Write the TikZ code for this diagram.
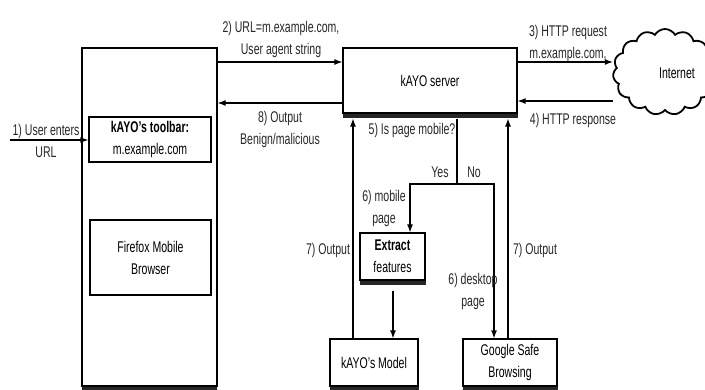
\documentclass[tikz,border=0pt]{standalone}
\usepackage{fontspec}
\setmainfont{Liberation Sans}[FakeStretch=0.68]
\usetikzlibrary{arrows.meta,shapes.symbols}
\begin{document}
\begin{tikzpicture}[x=1pt,y=-1pt,
  every node/.style={font=\fontsize{15.5}{22}\selectfont, inner sep=0pt},
  box/.style={draw, line width=1.2pt, rectangle, align=center},
  bar/.style={fill=black!85, draw=none, rectangle, minimum height=4.5pt, anchor=north},
  lbl/.style={align=center, text=black!85},
  arr/.style={line width=1.2pt, -{Latex[length=8pt,width=6pt]}},
  ln/.style={line width=1.2pt}]
\useasboundingbox (0,0) rectangle (705,389);
\clip (0,0) rectangle (705,389);
% boxes
\node[box, minimum width=135pt, minimum height=338pt] (browser) at (149.5,217) {};
\node[bar, minimum width=135pt, minimum height=3pt] (bbar) at (browser.south) {};
\node[box, minimum width=122pt, minimum height=45pt] (toolbar) at (150,139.5) {\textbf{kAYO's toolbar:}\\m.example.com};
\node[box, minimum width=121pt, minimum height=75pt] (firefox) at (150.5,257.5) {Firefox Mobile\\Browser};
\node[box, minimum width=174pt, minimum height=65pt] (server) at (430,80.5) {kAYO server};
\node[bar, minimum width=175pt] (sbar) at (server.south) {};
\node[box, minimum width=65pt, minimum height=47pt] (extract) at (392.5,256.5) {\textbf{Extract}\\features};
\node[bar, minimum width=66pt] (ebar) at (extract.south) {};
\node[box, minimum width=88pt, minimum height=47pt] (model) at (374,362.5) {kAYO's Model};
\node[bar, minimum width=89pt, minimum height=3pt] (mbar) at (model.south) {};
\node[box, minimum width=94pt, minimum height=47pt] (google) at (510,362.5) {Google Safe\\Browsing};
\node[bar, minimum width=95pt, minimum height=3pt] (gbar) at (google.south) {};
\node[cloud, draw, line width=1.8pt, cloud puffs=15, cloud puff arc=120, aspect=1.15,
      minimum width=104pt, minimum height=86pt] (cloud) at (665,72) {};
\node (inet) at (677,73) {Internet};
% connectors
\coordinate (in1) at (10,140);
\draw[arr] (in1) -- (toolbar.west |- in1);
\draw[arr] (browser.east |- 0,62) -- (server.west |- 0,62);
\draw[arr] (server.west |- 0,103) -- (browser.east |- 0,103);
\draw[arr] (server.east |- 0,62) -- (cloud.west |- 0,62);
\draw[arr] (cloud.west |- 0,101) -- (server.east |- 0,101);
\draw[arr] (model.north -| 353,0) -- (sbar.south -| 353,0);
\draw[arr] (google.north -| 508,0) -- (sbar.south -| 508,0);
\coordinate (split) at (457,184);
\draw[ln] (sbar.south -| split) -- (split);
\draw[arr] (split) -| (extract.north -| 410,0);
\draw[arr] (split) -| (google.north -| 494,0);
\draw[arr] (ebar.south -| 393,0) ++(0,5) -- (model.north -| 393,0);
% labels
\node[lbl] (l1) at (46,141) {1) User enters\\URL};
\node[lbl] (l2) at (281,39) {2) URL=m.example.com,\\User agent string};
\node[lbl] (l8) at (280,129.5) {8) Output\\Benign/malicious};
\node[lbl] (l3) at (568,43) {3) HTTP request\\m.example.com,};
\node[lbl] (l4) at (573,120) {4) HTTP response};
\node[lbl] (l5) at (412,130) {5) Is page mobile?};
\node[lbl] (lyes) at (440,172) {Yes};
\node[lbl] (lno) at (474,172) {No};
\node[lbl] (l6a) at (384,208) {6) mobile\\page};
\node[lbl] (l7a) at (328,250) {7) Output};
\node[lbl] (l7b) at (535,250) {7) Output};
\node[lbl] (l6b) at (473,291) {6) desktop\\page};
\end{tikzpicture}
\end{document}
